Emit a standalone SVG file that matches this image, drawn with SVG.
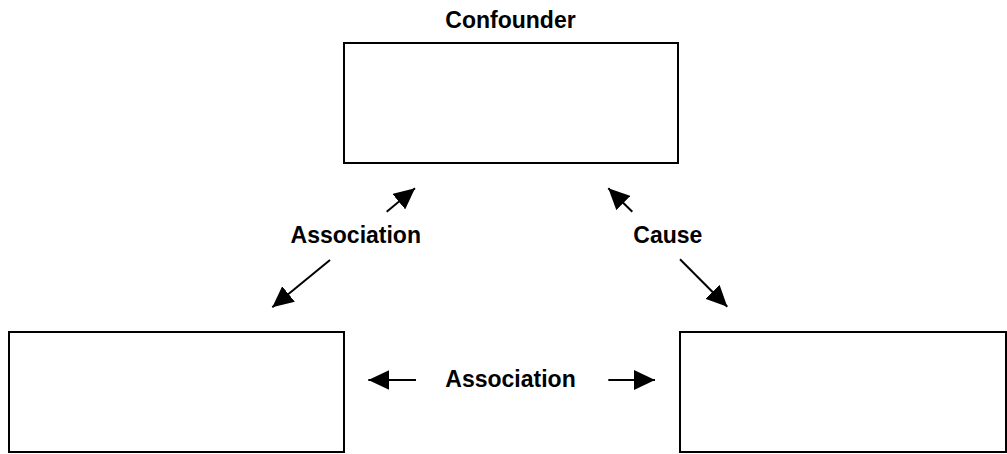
<svg xmlns="http://www.w3.org/2000/svg" width="1007" height="454" viewBox="0 0 1007 454">
<style>
.box{fill:#fff;stroke:#000;stroke-width:2}
.lbl{font-family:"Liberation Sans",Arial,sans-serif;font-weight:bold;font-size:23px;fill:#000;text-anchor:middle}
.con{stroke:#000;stroke-width:2;fill:none;marker-end:url(#ah)}
</style>
<defs>
<marker id="ah" markerUnits="userSpaceOnUse" markerWidth="21" markerHeight="20" refX="21" refY="10" orient="auto" viewBox="0 0 21 20">
<path d="M0,0 L21,10 L0,20 z" fill="#000"/>
</marker>
</defs>
<rect width="1007" height="454" fill="#fff"/>
<g id="confounder">
<rect class="box" x="344" y="43" width="334" height="120"/>
<text class="lbl" x="510.5" y="28">Confounder</text>
</g>
<g id="exposure">
<rect class="box" x="9" y="332" width="335" height="120"/>
</g>
<g id="outcome">
<rect class="box" x="680" y="332" width="326" height="120"/>
</g>
<g id="connectors">
<line class="con" x1="386.7" y1="211.7" x2="415" y2="188.3"/>
<line class="con" x1="330" y1="260" x2="272.3" y2="307.3"/>
<line class="con" x1="632.3" y1="211.7" x2="608.3" y2="188.3"/>
<line class="con" x1="680" y1="259.3" x2="727.3" y2="306.7"/>
<line class="con" x1="416" y1="380" x2="368.3" y2="380"/>
<line class="con" x1="608.3" y1="380" x2="655" y2="380"/>
<text class="lbl" x="355.8" y="243.3">Association</text>
<text class="lbl" x="667.8" y="243.3">Cause</text>
<text class="lbl" x="510.5" y="387.3">Association</text>
</g>
</svg>
